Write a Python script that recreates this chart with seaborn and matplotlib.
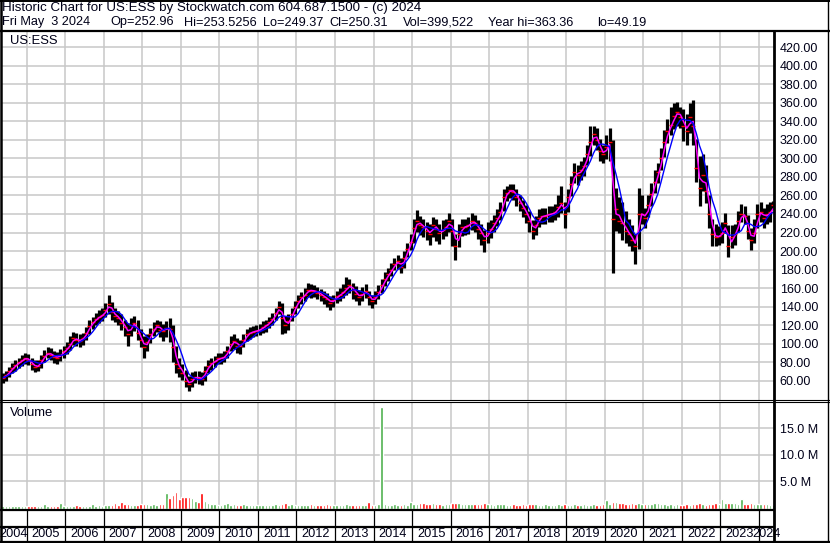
import numpy as np
import pandas as pd
import matplotlib
matplotlib.use("Agg")
import matplotlib.pyplot as plt
from matplotlib.lines import Line2D
from matplotlib.ticker import FuncFormatter
import seaborn as sns

# monthly bars, May 2004 .. May 2024
close = [
    63, 66, 70, 74, 77, 80, 82, 85,                                   # 2004 May-Dec
    82, 78, 75, 76, 82, 87, 90, 88, 86, 85, 88, 92,                   # 2005
    95, 100, 106, 104, 103, 106, 112, 119, 123, 127, 129, 131,        # 2006
    136, 143, 134, 130, 128, 122, 118, 110, 120, 122, 112, 104,       # 2007
    96, 102, 110, 116, 120, 115, 114, 117, 116, 96, 78, 74,           # 2008
    68, 60, 56, 62, 64, 63, 62, 70, 76, 79, 81, 84,                   # 2009
    84, 86, 92, 100, 103, 98, 97, 104, 110, 112, 113, 114,            # 2010
    115, 118, 120, 123, 127, 133, 140, 128, 120, 124, 132, 140,       # 2011
    146, 150, 153, 158, 157, 157, 155, 153, 150, 148, 144, 147,       # 2012
    151, 153, 156, 160, 163, 158, 154, 150, 154, 157, 150, 146,       # 2013
    150, 156, 163, 170, 175, 180, 186, 189, 183, 192, 202, 210,       # 2014
    225, 232, 228, 226, 222, 218, 228, 224, 219, 223, 226, 232,       # 2015
    222, 205, 218, 226, 226, 228, 232, 230, 224, 219, 212, 220,       # 2016
    224, 230, 236, 242, 258, 263, 266, 264, 258, 252, 246, 240,       # 2017
    232, 222, 228, 236, 238, 238, 240, 240, 242, 248, 252, 240,       # 2018
    258, 272, 285, 282, 288, 292, 305, 318, 326, 320, 308, 305,       # 2019
    312, 318, 235, 245, 232, 230, 222, 218, 212, 205, 240, 240,       # 2020
    236, 250, 262, 275, 285, 300, 318, 330, 336, 346, 350, 345,       # 2021
    335, 330, 345, 335, 290, 268, 282, 265, 240, 218, 215, 216,       # 2022
    220, 230, 205, 215, 218, 232, 240, 238, 222, 212, 220, 240,       # 2023
    242, 236, 240, 242, 250,                                          # 2024 Jan-May
]
high = [
    68, 71, 75, 79, 82, 85, 88, 90,
    89, 85, 82, 82, 88, 93, 96, 95, 92, 91, 94, 98,
    102, 108, 113, 111, 110, 112, 118, 126, 129, 133, 136, 138,
    144, 152, 145, 138, 135, 132, 126, 122, 128, 130, 126, 116,
    108, 110, 117, 123, 126, 124, 121, 124, 128, 120, 98, 84,
    78, 72, 65, 69, 71, 70, 69, 76, 82, 85, 87, 90,
    90, 92, 98, 108, 110, 106, 104, 110, 116, 118, 119, 120,
    121, 124, 126, 129, 133, 139, 146, 144, 130, 132, 138, 146,
    152, 156, 160, 165, 164, 163, 161, 159, 157, 155, 151, 153,
    157, 160, 164, 172, 170, 166, 162, 158, 161, 164, 157, 153,
    157, 163, 170, 177, 182, 187, 193, 196, 192, 200, 209, 218,
    235, 244, 238, 235, 231, 229, 237, 235, 229, 233, 235, 241,
    235, 218, 229, 235, 235, 237, 241, 239, 234, 229, 223, 231,
    233, 239, 245, 253, 267, 270, 272, 272, 267, 261, 255, 250,
    243, 233, 238, 245, 247, 247, 249, 249, 251, 261, 270, 253,
    267, 281, 295, 293, 297, 301, 315, 335, 335, 333, 321, 315,
    325, 333, 320, 268, 258, 253, 243, 235, 228, 218, 268, 261,
    247, 261, 273, 287, 295, 311, 331, 343, 355, 360, 361, 355,
    353, 348, 360, 363, 321, 303, 305, 293, 261, 235, 229, 227,
    231, 241, 228, 228, 229, 243, 251, 249, 239, 225, 235, 251,
    253, 247, 251, 253, 254,
]
low = [
    57, 60, 64, 68, 71, 74, 76, 78,
    77, 72, 69, 70, 74, 80, 84, 82, 79, 78, 81, 85,
    89, 93, 99, 97, 96, 99, 104, 110, 116, 120, 122, 124,
    129, 132, 126, 123, 120, 115, 108, 98, 108, 114, 104, 96,
    84, 92, 101, 108, 113, 107, 103, 107, 102, 80, 68, 64,
    61, 53, 49, 53, 57, 56, 55, 60, 68, 72, 75, 78,
    78, 80, 85, 92, 94, 90, 89, 96, 103, 105, 107, 108,
    109, 111, 113, 117, 120, 125, 132, 110, 111, 115, 124, 132,
    139, 143, 146, 150, 149, 150, 148, 146, 143, 140, 136, 140,
    144, 146, 149, 152, 155, 148, 146, 142, 146, 149, 142, 138,
    143, 148, 155, 162, 168, 173, 179, 181, 176, 182, 194, 201,
    209, 221, 217, 215, 212, 207, 215, 211, 208, 213, 216, 221,
    205, 190, 204, 216, 217, 218, 223, 221, 213, 207, 199, 209,
    214, 221, 227, 233, 243, 254, 257, 255, 249, 243, 237, 230,
    221, 213, 217, 226, 229, 229, 231, 231, 233, 237, 241, 225,
    242, 259, 273, 271, 277, 281, 293, 303, 315, 309, 297, 295,
    299, 297, 176, 222, 219, 212, 209, 205, 200, 186, 202, 229,
    225, 237, 249, 263, 273, 287, 302, 317, 325, 332, 335, 333,
    319, 315, 327, 315, 275, 249, 265, 252, 225, 205, 205, 206,
    209, 219, 194, 203, 207, 221, 231, 229, 213, 201, 209, 225,
    231, 225, 229, 231, 245,
]
# volume in millions of shares
volume = [
    0.2, 0.25, 0.2, 0.3, 0.25, 0.2, 0.3, 0.25,
    0.3, 0.25, 0.3, 0.35, 0.3, 0.7, 0.3, 0.3, 0.35, 0.3, 0.9, 0.3,
    0.25, 0.3, 0.3, 0.4, 0.3, 0.35, 0.3, 0.35, 0.7, 0.3, 0.4, 0.35,
    0.4, 0.5, 0.4, 0.9, 0.5, 1.1, 0.6, 0.7, 0.5, 0.45, 0.5, 0.6,
    0.6, 0.7, 0.5, 0.6, 0.5, 0.6, 0.6, 2.7, 1.8, 2.3, 3.0, 1.6,
    2.0, 1.9, 1.9, 1.8, 1.2, 1.1, 2.7, 1.2, 0.8, 0.6, 0.7, 0.5,
    0.5, 0.6, 0.8, 0.5, 0.6, 0.5, 0.5, 0.6, 0.5, 0.4, 0.5, 0.4,
    0.4, 0.5, 0.4, 0.5, 0.4, 0.6, 0.5, 0.7, 0.8, 0.5, 0.6, 0.5,
    0.4, 0.5, 0.4, 0.5, 0.6, 0.4, 0.4, 0.5, 0.4, 0.6, 0.4, 0.5,
    0.4, 0.5, 0.4, 0.6, 0.5, 0.4, 0.5, 0.4, 0.5, 0.4, 1.1, 0.5,
    0.5, 0.6, 19.0, 0.6, 0.5, 0.5, 0.6, 0.5, 0.5, 0.7, 0.5, 1.0,
    0.6, 0.7, 0.9, 0.8, 0.7, 0.6, 0.8, 0.7, 0.6, 0.5, 0.6, 0.7,
    0.8, 0.9, 0.8, 0.7, 0.6, 0.7, 0.6, 0.6, 0.7, 0.6, 0.8, 0.6,
    0.6, 0.5, 0.6, 0.6, 0.7, 0.5, 0.5, 0.6, 0.5, 0.5, 0.6, 0.5,
    0.6, 0.7, 0.6, 0.5, 0.5, 0.6, 0.5, 0.5, 0.5, 0.6, 0.5, 0.7,
    0.5, 0.5, 0.6, 0.5, 0.5, 0.6, 0.5, 0.5, 0.6, 0.5, 0.5, 0.6,
    1.5, 0.7, 1.0, 1.0, 0.8, 0.9, 0.7, 0.6, 0.8, 0.7, 0.9, 0.7,
    0.6, 0.6, 0.7, 0.9, 0.8, 0.6, 0.6, 0.5, 0.6, 0.5, 0.6, 0.5,
    0.5, 0.6, 0.5, 0.6, 0.7, 0.8, 0.6, 0.5, 0.6, 0.7, 0.8, 0.6,
    1.6, 0.8, 0.9, 0.9, 0.8, 0.7, 1.6, 0.7, 0.7, 0.8, 0.7, 0.6,
    0.6, 0.7, 0.6, 0.5, 0.4,
]
years = list(range(2004, 2025))
header1 = "Historic Chart for US:ESS by Stockwatch.com 604.687.1500 - (c) 2024"
header2 = [("Fri May  3 2024", 2), ("Op=252.96", 110), ("Hi=253.5256", 184),
           ("Lo=249.37", 263), ("Cl=250.31", 329), ("Vol=399,522", 403),
           ("Year hi=363.36", 488), ("lo=49.19", 597)]
price_ticks = list(range(60, 421, 20))
vol_ticks = [5, 10, 15]

months = pd.period_range("2004-05", "2024-05", freq="M")
assert len(close) == len(high) == len(low) == len(volume) == len(months)

df = pd.DataFrame({"close": close, "high": high, "low": low, "volume": volume})
df["t"] = [p.year + (p.month - 0.5) / 12 for p in months]
df["ma_fast"] = df["close"].rolling(2, min_periods=1).mean()
df["ma_slow"] = df["close"].rolling(5, min_periods=1).mean()
up = df["close"].diff().fillna(0) >= 0

sns.set_style("white")
plt.rcParams["font.family"] = ["Liberation Sans", "DejaVu Sans"]
plt.rcParams["text.color"] = "#000018"

W, H = 830, 543
fig = plt.figure(figsize=(W / 100, H / 100), dpi=100)
fig.patch.set_facecolor("white")


def box(x0, y0, x1, y1):
    return [x0 / W, 1 - y1 / H, (x1 - x0) / W, (y1 - y0) / H]


def hline(y, x0=0, x1=W, lw=1.0):
    fig.add_artist(Line2D([x0 / W, x1 / W], [1 - y / H, 1 - y / H],
                          transform=fig.transFigure, color="black", lw=lw))


def vline(x, y0=0, y1=H, lw=1.0):
    fig.add_artist(Line2D([x / W, x / W], [1 - y0 / H, 1 - y1 / H],
                          transform=fig.transFigure, color="black", lw=lw))


XLIM = (2004.333, 2024.377)
GRID = "#c8c8c8"
VOL_BOTTOM = -0.3

ax = fig.add_axes(box(1, 32, 773.5, 399.5))
axv = fig.add_axes(box(1, 402.5, 773.5, 509))
axy = fig.add_axes(box(1, 509, 773.5, 541))

for a in (ax, axv, axy):
    a.set_xlim(*XLIM)
    for s in a.spines.values():
        s.set_visible(False)
    a.set_facecolor("white")

# price panel
ax.set_ylim(39.7, 436.5)
ax.set_xticks(years[1:])
ax.set_yticks(price_ticks)
ax.grid(True, color=GRID, lw=1.1)
ax.set_axisbelow(True)
ax.vlines(df["t"], df["low"], df["high"], colors="black", lw=2.3, zorder=2)
ax.plot(df["t"], df["close"], ls="none", marker="_", ms=2.5, mew=1.0,
        color="red", zorder=3)
sns.lineplot(x=df["t"], y=df["ma_fast"], ax=ax, color="#ff00ff", lw=1.1,
             estimator=None, sort=False, zorder=4)
sns.lineplot(x=df["t"], y=df["ma_slow"], ax=ax, color="#0000ff", lw=1.0,
             estimator=None, sort=False, zorder=5)
ax.set_xlabel("")
ax.set_ylabel("")
ax.yaxis.tick_right()
ax.yaxis.set_major_formatter(FuncFormatter(lambda v, p: f"{v:.2f}"))
ax.tick_params(axis="y", length=0, pad=4.5, labelsize=9, labelcolor="#000018")
ax.tick_params(axis="x", length=0, labelbottom=False)
ax.text(9 / 772.5, 1 - 8.5 / 367.5, "US:ESS", transform=ax.transAxes,
        fontsize=9.4, va="center", ha="left")

# volume panel
axv.set_ylim(VOL_BOTTOM, 19.92)
axv.set_xticks(years[1:])
axv.set_yticks(vol_ticks)
axv.grid(True, color=GRID, lw=1.1)
axv.set_axisbelow(True)
axv.bar(df["t"], df["volume"] - VOL_BOTTOM, bottom=VOL_BOTTOM, width=0.8 / 12,
        color=np.where(up, "#4cb04c", "#ff0000"), zorder=2)
axv.yaxis.tick_right()
axv.yaxis.set_major_formatter(FuncFormatter(lambda v, p: f"{v:.1f} M"))
axv.tick_params(axis="y", length=0, pad=4.5, labelsize=9, labelcolor="#000018")
axv.tick_params(axis="x", length=0, labelbottom=False)
axv.text(9 / 772.5, 1 - 10.5 / 106.5, "Volume", transform=axv.transAxes,
         fontsize=9.4, va="center", ha="left")

# year strip
axy.set_ylim(0, 1)
axy.set_xticks([])
axy.set_yticks([])
for y in years[1:]:
    axy.axvline(y, color="black", lw=0.9)
for y in years:
    lo, hi = max(y, XLIM[0]), min(y + 1, XLIM[1])
    axy.text((lo + hi) / 2, 0.22, str(y), ha="center", va="center", fontsize=9.2)

# frame lines
hline(0.7, lw=1.4)
hline(31, lw=1.6)
hline(400, lw=0.8)
hline(402.3, lw=0.8)
hline(510, 0, 774, lw=1.6)
hline(526.8, 0, 774, lw=1.6)
hline(541.8, lw=1.6)
vline(0.8, lw=1.8)
vline(828.2, lw=1.0)
vline(774.2, 31, H, lw=2.0)

fig.text(2 / W, 1 - 8.5 / H, header1, fontsize=9.6, va="center", ha="left")
for txt, x in header2:
    fig.text(x / W, 1 - 22.5 / H, txt, fontsize=9.2, va="center", ha="left")

fig.savefig("out.png", dpi=100, facecolor="white")
